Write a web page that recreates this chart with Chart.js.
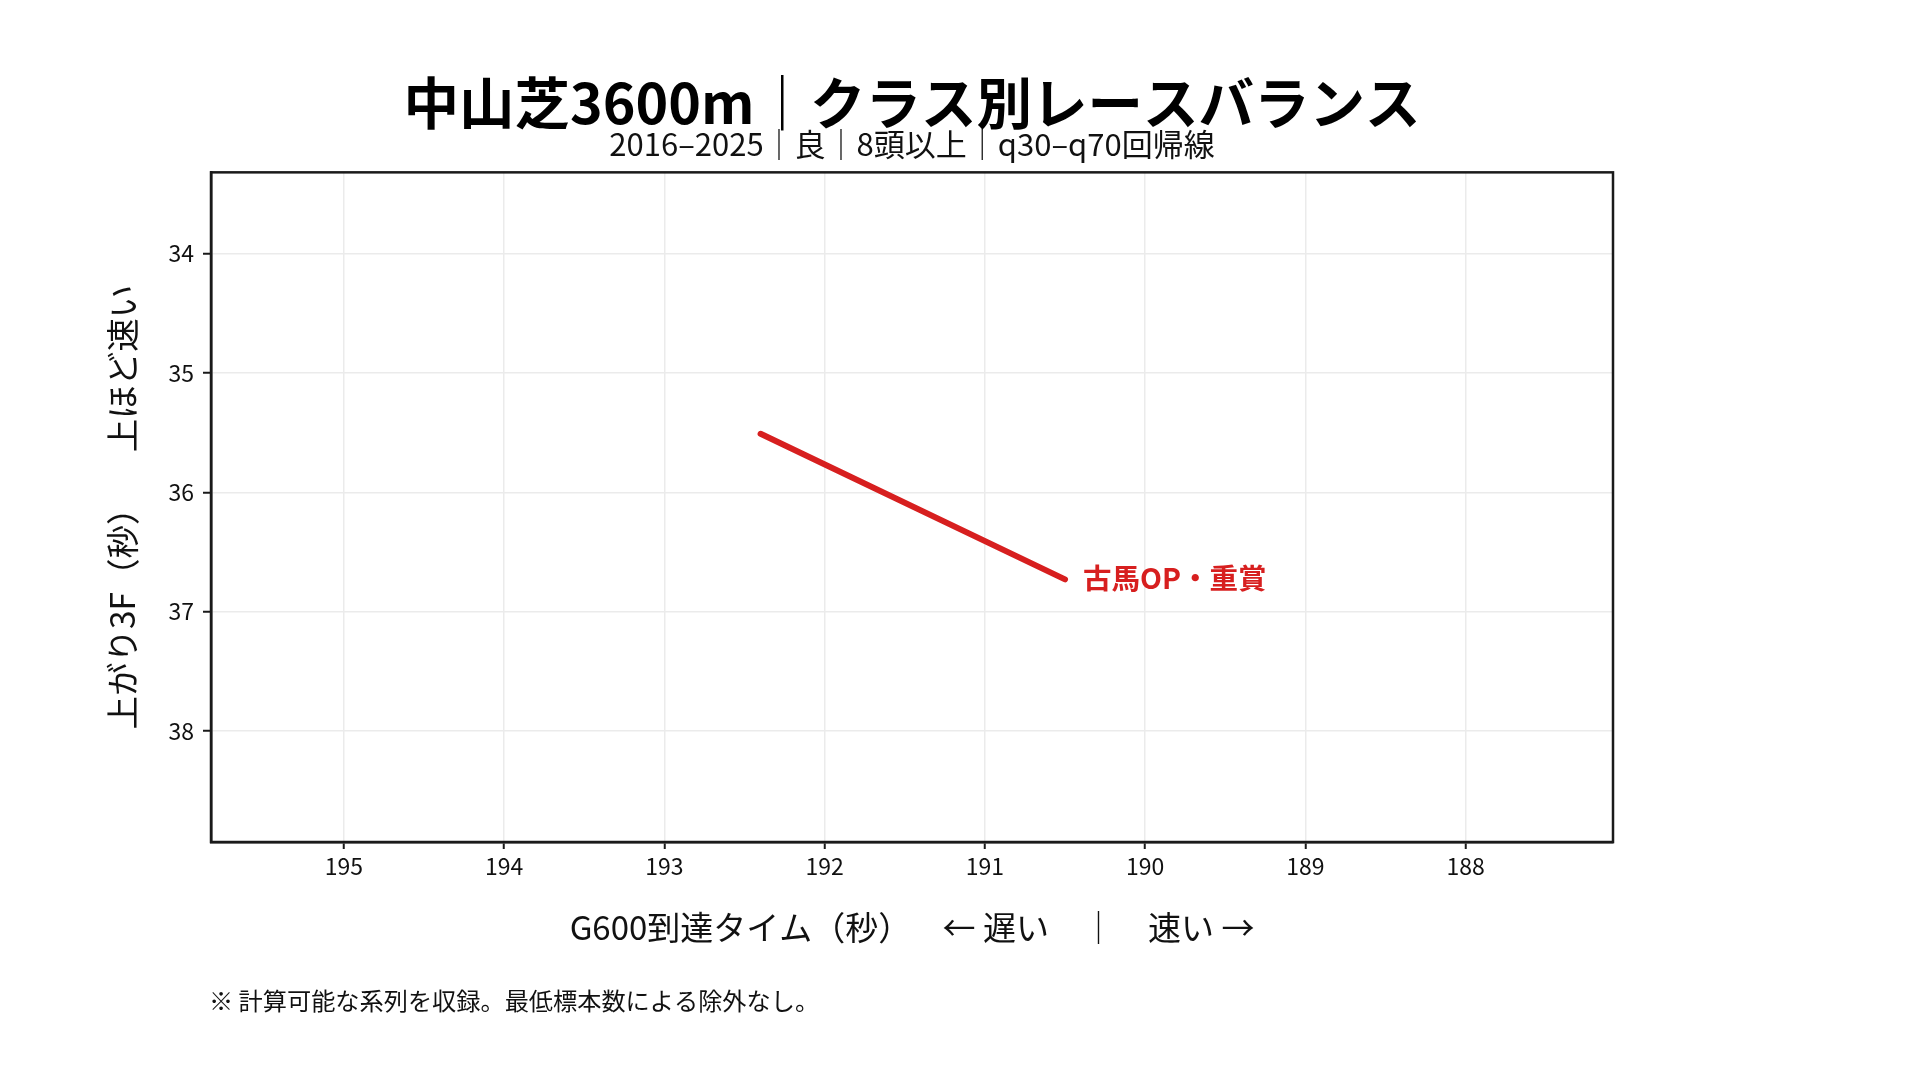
<!DOCTYPE html>
<html>
<head>
<meta charset="utf-8">
<script src="https://cdn.jsdelivr.net/npm/chart.js@4.4.1/dist/chart.umd.min.js"></script>
<style>
  body { margin: 0; background: #fff; }
  canvas { display: block; }
</style>
</head>
<body>
<canvas id="chartCanvas" width="1920" height="1080"></canvas>
<script>
// クラス別の回帰線（q30–q70）
const classNames = ['古馬OP・重賞'];
const g600Times = [192.40, 190.50];   // G600到達タイム（秒）
const last3fTimes = [35.51, 36.73];   // 上がり3F（秒）

const xTicks = [195, 194, 193, 192, 191, 190, 189, 188];
const yTicks = [34, 35, 36, 37, 38];

const lineColor = '#d71f1f';
const fontFamily = "'Noto Sans CJK JP', 'Noto Sans', sans-serif";

Chart.defaults.font.family = fontFamily;
Chart.defaults.color = '#111';

// 枠線（上下左右）
const framePlugin = {
  id: 'frame',
  afterDraw(chart) {
    const a = chart.chartArea;
    const ctx = chart.ctx;
    ctx.save();
    ctx.strokeStyle = '#1a1a1a';
    ctx.lineWidth = 2.5;
    ctx.strokeRect(a.left, a.top, a.right - a.left, a.bottom - a.top);
    ctx.restore();
  }
};

// 線の終点にクラス名
const endLabelPlugin = {
  id: 'endLabel',
  afterDatasetsDraw(chart) {
    const ctx = chart.ctx;
    chart.data.datasets.forEach((ds, i) => {
      const meta = chart.getDatasetMeta(i);
      const pt = meta.data[meta.data.length - 1];
      ctx.save();
      ctx.font = 'bold 28.5px ' + fontFamily;
      ctx.fillStyle = ds.borderColor;
      ctx.textAlign = 'left';
      ctx.textBaseline = 'middle';
      ctx.fillText(ds.label, pt.x + 18, pt.y - 1);
      ctx.restore();
    });
  }
};

// 下部の注記
const notePlugin = {
  id: 'note',
  afterDraw(chart) {
    const ctx = chart.ctx;
    ctx.save();
    ctx.font = '24.2px ' + fontFamily;
    ctx.fillStyle = '#111';
    ctx.textAlign = 'left';
    ctx.textBaseline = 'middle';
    ctx.fillText('※ 計算可能な系列を収録。最低標本数による除外なし。', 209, 1001);
    ctx.restore();
  }
};

const ctx = document.getElementById('chartCanvas').getContext('2d');
new Chart(ctx, {
  type: 'line',
  data: {
    datasets: [{
      label: classNames[0],
      data: g600Times.map((x, i) => ({ x: x, y: last3fTimes[i] })),
      borderColor: lineColor,
      borderWidth: 6,
      borderCapStyle: 'round',
      pointRadius: 0,
      fill: false
    }]
  },
  options: {
    responsive: false,
    animation: false,
    devicePixelRatio: 1,
    layout: { padding: { left: 0, right: 307, top: 0, bottom: 108 } },
    plugins: {
      legend: { display: false },
      tooltip: { enabled: false },
      title: {
        display: true,
        fullSize: false,
        text: '中山芝3600m｜クラス別レースバランス',
        font: { size: 55.5, weight: 'bold', lineHeight: 1.0 },
        color: '#000',
        padding: { top: 75.25, bottom: 4 }
      },
      subtitle: {
        display: true,
        fullSize: false,
        text: '2016–2025｜良｜8頭以上｜q30–q70回帰線',
        font: { size: 31, lineHeight: 0.6 },
        color: '#111',
        padding: { top: 0, bottom: 19 }
      }
    },
    scales: {
      x: {
        type: 'linear',
        reverse: true,
        min: 187.08,
        max: 195.83,
        afterBuildTicks: s => { s.ticks = xTicks.map(v => ({ value: v })); },
        afterFit: s => { s.height = 130; },
        ticks: { font: { size: 23 }, color: '#111', padding: 3 },
        grid: { color: '#ebebeb', lineWidth: 1.5, tickColor: '#1a1a1a', tickWidth: 2, tickLength: 7 },
        border: { display: true, color: '#1a1a1a', width: 2.5 },
        title: {
          display: true,
          text: 'G600到達タイム（秒）　  ← 遅い　｜　速い →',
          font: { size: 33 },
          color: '#111',
          padding: { top: 0, bottom: 24.6 }
        }
      },
      y: {
        type: 'linear',
        reverse: true,
        min: 33.32,
        max: 38.93,
        afterBuildTicks: s => { s.ticks = yTicks.map(v => ({ value: v })); },
        afterFit: s => { s.width = 211; },
        ticks: { font: { size: 23 }, color: '#111', padding: 9 },
        grid: { color: '#ebebeb', lineWidth: 1.5, tickColor: '#1a1a1a', tickWidth: 2, tickLength: 8 },
        border: { display: true, color: '#1a1a1a', width: 2.5 },
        title: {
          display: true,
          text: '上がり3F（秒）　   上ほど速い',
          font: { size: 33.5 },
          color: '#111',
          padding: { top: 102, bottom: 0 }
        }
      }
    }
  },
  plugins: [framePlugin, endLabelPlugin, notePlugin]
});
</script>
</body>
</html>
